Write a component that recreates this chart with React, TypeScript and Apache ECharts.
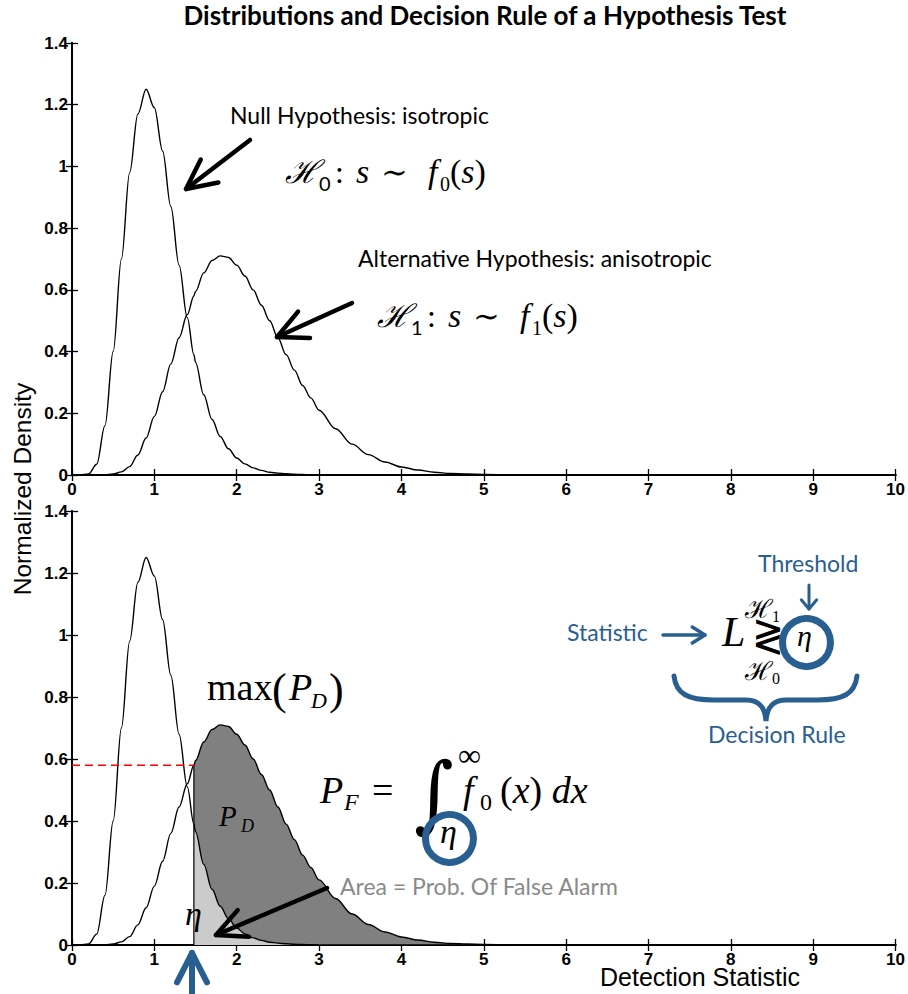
import React, { useEffect, useRef } from "react";
import * as echarts from "echarts";

// ---------- data ----------
const xs = [0, 0.1, 0.2, 0.3, 0.4, 0.5, 0.6, 0.7, 0.8, 0.9, 1.0, 1.1, 1.2, 1.3, 1.4, 1.48, 1.5, 1.6, 1.7, 1.8, 1.9, 2.0, 2.1, 2.2, 2.3, 2.4, 2.5, 2.6, 2.7, 2.8, 2.9, 3.0, 3.2, 3.4, 3.6, 3.8, 4.0, 4.2, 4.4, 4.6, 4.8, 5.0, 5.5, 6.0, 10];
const nullDensity = [0, 0, 0.003, 0.035, 0.16, 0.4, 0.7, 0.98, 1.17, 1.25, 1.19, 1.05, 0.87, 0.68, 0.51, 0.39, 0.365, 0.26, 0.18, 0.125, 0.085, 0.055, 0.036, 0.023, 0.015, 0.009, 0.006, 0.004, 0.0025, 0.0015, 0.001, 0.0005, 0, 0, 0, 0, 0, 0, 0, 0, 0, 0, 0, 0, 0];
const altDensity = [0, 0, 0, 0, 0.001, 0.003, 0.01, 0.027, 0.065, 0.12, 0.19, 0.27, 0.36, 0.445, 0.52, 0.58, 0.595, 0.655, 0.695, 0.71, 0.705, 0.68, 0.645, 0.6, 0.55, 0.5, 0.445, 0.39, 0.34, 0.29, 0.25, 0.21, 0.15, 0.1, 0.066, 0.042, 0.026, 0.016, 0.009, 0.005, 0.003, 0.002, 0.0005, 0, 0];
const threshold = 1.48;
const X_MIN = 0, X_MAX = 10, X_STEP = 1;
const Y_MIN = 0, Y_MAX = 1.4, Y_STEP = 0.2;

// ---------- styles ----------
const BLUE = "#295e91";
const SERIF = "'Liberation Serif','DejaVu Serif',serif";
const MATH = "'DejaVu Serif','Liberation Serif',serif";
const SANS = "Lato,'Open Sans',sans-serif";
const ARIAL = "'Liberation Sans',Arial,sans-serif";

const bracePath =
  "M0 0 C2 18 14 24 40 24 L72 24 C86 24 91 32 92 45 C93 32 98 24 112 24 L143 24 C169 24 181 18 183 0";
echarts.graphic.registerShape("brace", echarts.graphic.extendPath(bracePath, {}) as any);

function tx(text: string, x: number, base: number, size: number, family: string, opt: any = {}) {
  const k = family === SANS ? 0.39 : 0.34;
  const el: any = {
    type: "text",
    z: 100,
    x,
    y: base - k * size,
    style: {
      text,
      fontSize: size,
      fontFamily: family,
      fill: opt.fill || "#000",
      fontStyle: opt.italic ? "italic" : "normal",
      fontWeight: opt.bold ? "bold" : "normal",
      align: opt.align || "left",
      verticalAlign: "middle",
    },
  };
  if (opt.rich) el.style.rich = opt.rich;
  if (opt.scaleY) el.scaleY = opt.scaleY;
  if (opt.scaleX) el.scaleX = opt.scaleX;
  return el;
}

function arrow(x1: number, y1: number, x2: number, y2: number, len: number, deg: number, w: number, color: string) {
  const a = Math.atan2(y1 - y2, x1 - x2);
  const r = (deg * Math.PI) / 180;
  const p1 = [x2 + len * Math.cos(a - r), y2 + len * Math.sin(a - r)];
  const p2 = [x2 + len * Math.cos(a + r), y2 + len * Math.sin(a + r)];
  return [
    { type: "line", z: 100, shape: { x1, y1, x2, y2 }, style: { stroke: color, lineWidth: w, lineCap: "round" } },
    {
      type: "polyline",
      z: 100,
      shape: { points: [p1, [x2, y2], p2] },
      style: { stroke: color, lineWidth: w, lineCap: "round", lineJoin: "round", fill: null },
    },
  ];
}

function hFormula(x0: number, base: number, sub: string) {
  const rich = {
    n: { fontFamily: SERIF, fontSize: 34 },
    i: { fontFamily: SERIF, fontSize: 34, fontStyle: "italic" },
  };
  return [
    tx("ℋ", x0, base, 32, MATH, { italic: true }),
    tx(sub, x0 + 34, base + 8, 20, SANS),
    tx(":", x0 + 50, base, 32, SERIF),
    tx("s", x0 + 71, base, 34, SERIF, { italic: true }),
    tx("∼", x0 + 96, base, 32, SERIF),
    tx("f", x0 + 143, base, 34, SERIF, { italic: true }),
    tx(sub, x0 + 155, base + 8, 20, SERIF),
    tx("{n|(}{i|s}{n|)}", x0 + 165, base, 34, SERIF, { rich }),
  ];
}

function fmtY(v: number) {
  return String(Math.round(v * 10) / 10);
}

function makeAxes(grid: number) {
  const line = { show: true, lineStyle: { color: "#000", width: 2 } };
  const tick = { show: true, inside: true, length: 6, lineStyle: { color: "#000", width: 1.3 } };
  const label = { color: "#000", fontWeight: "bold", fontSize: 17, fontFamily: ARIAL };
  const x = [
    {
      gridIndex: grid, type: "value", position: "bottom", min: X_MIN, max: X_MAX, interval: X_STEP,
      axisLine: line, axisTick: tick, splitLine: { show: false },
      axisLabel: { ...label, margin: 6 },
    },
    {
      gridIndex: grid, type: "value", position: "top", min: X_MIN, max: X_MAX, interval: X_STEP,
      axisLine: line, axisTick: tick, splitLine: { show: false }, axisLabel: { show: false },
    },
  ];
  const y = [
    {
      gridIndex: grid, type: "value", position: "left", min: Y_MIN, max: Y_MAX, interval: Y_STEP,
      axisLine: line, axisTick: tick, splitLine: { show: false },
      axisLabel: { ...label, margin: 4, formatter: fmtY },
    },
    {
      gridIndex: grid, type: "value", position: "right", min: Y_MIN, max: Y_MAX, interval: Y_STEP,
      axisLine: line, axisTick: tick, splitLine: { show: false }, axisLabel: { show: false },
    },
  ];
  return { x, y };
}

function buildOption() {
  const pts = (vals: number[]) => xs.map((x, i) => [x, vals[i]]);
  const fromThreshold = (vals: number[]) => xs.map((x, i) => [x, vals[i]]).filter((p) => p[0] >= threshold);
  const tIdx = xs.indexOf(threshold);
  const level = altDensity[tIdx];

  const a0 = makeAxes(0);
  const a1 = makeAxes(1);
  const curve = (vals: number[], xi: number, yi: number) => ({
    type: "line", xAxisIndex: xi, yAxisIndex: yi, data: pts(vals), showSymbol: false, symbol: "none",
    smooth: 0.35, smoothMonotone: "x", lineStyle: { color: "#000", width: 1.4 }, z: 5,
  });

  const graphic: any[] = [
    tx("Distributions and Decision Rule of a Hypothesis Test", 485, 25, 26, SANS, { bold: true, align: "center" }),
    {
      type: "text", z: 100, x: 22, y: 489, rotation: Math.PI / 2,
      style: { text: "Normalized Density", fontSize: 24.5, fontFamily: ARIAL, fill: "#000", align: "center", verticalAlign: "middle" },
    },
    tx("Detection Statistic", 600, 985, 25, ARIAL),
    tx("Null Hypothesis: isotropic", 230, 124, 23, SANS),
    tx("Alternative Hypothesis: anisotropic", 358, 267, 23, SANS),
    ...hFormula(285, 183, "0"),
    ...hFormula(377, 327, "1"),
    ...arrow(250, 140, 186, 189, 33, 26, 4.5, "#000"),
    ...arrow(352, 303, 277, 337, 33, 26, 4.5, "#000"),
    // bottom panel annotations
    tx("max", 207, 700, 38, SERIF),
    tx("(", 272, 704, 44, SERIF),
    tx("P", 289, 700, 38, SERIF, { italic: true }),
    tx("D", 311, 708, 22, SERIF, { italic: true }),
    tx(")", 329, 704, 44, SERIF),
    tx("P", 219, 826, 29, SERIF, { italic: true }),
    tx("D", 241, 832, 18, SERIF, { italic: true }),
    tx("P", 320, 803, 38, SERIF, { italic: true }),
    tx("F", 344, 810, 24, SERIF, { italic: true }),
    tx("=", 372, 803, 38, SERIF),
    { type: "text", z: 100, x: 414, y: 793, scaleY: 1.1, style: { text: "∫", fontSize: 76, fontFamily: MATH, fill: "#000", align: "left", verticalAlign: "middle" } },
    tx("∞", 458, 766, 32, SERIF),
    tx("f", 463, 803, 38, SERIF, { italic: true }),
    tx("0", 480, 810, 24, SERIF),
    tx("{n|(}{i|x}{n|) }{i|dx}", 500, 803, 38, SERIF, {
      rich: {
        n: { fontFamily: SERIF, fontSize: 38 },
        i: { fontFamily: SERIF, fontSize: 38, fontStyle: "italic" },
      },
    }),
    { type: "circle", z: 100, shape: { cx: 449.5, cy: 838.5, r: 24 }, style: { fill: "none", stroke: BLUE, lineWidth: 7 } },
    tx("η", 440, 843, 34, SERIF, { italic: true }),
    tx("Area = Prob. Of False Alarm", 340, 895, 23, SANS, { fill: "#8a8a8a" }),
    ...arrow(327, 888, 216, 935, 33, 26, 4.5, "#000"),
    tx("η", 185, 925, 34, SERIF, { italic: true }),
    ...arrow(192, 996, 192, 953, 33, 27, 6, BLUE),
    // decision rule
    tx("Threshold", 758, 572, 23, SANS, { fill: BLUE }),
    ...arrow(809, 585, 809, 609, 12, 40, 3, BLUE),
    tx("Statistic", 567, 641, 23, SANS, { fill: BLUE }),
    ...arrow(663, 635, 705, 635, 15, 32, 3.5, BLUE),
    tx("L", 722, 646, 42, SERIF, { italic: true }),
    tx("ℋ", 745, 618, 26, MATH),
    tx("1", 772, 622, 16, SERIF),
    tx("≷", 752, 648, 38, MATH, { scaleY: 1.2 }),
    tx("ℋ", 745, 680, 26, MATH),
    tx("0", 772, 684, 16, SERIF),
    { type: "circle", z: 100, shape: { cx: 806.5, cy: 642.5, r: 24 }, style: { fill: "none", stroke: BLUE, lineWidth: 7 } },
    tx("η", 797, 646, 30, SERIF, { italic: true }),
    { type: "brace", z: 100, x: 674, y: 676, style: { fill: "none", stroke: BLUE, lineWidth: 5, lineCap: "round" } },
    tx("Decision Rule", 708, 743, 23, SANS, { fill: BLUE }),
  ];

  return {
    animation: false,
    backgroundColor: "#fff",
    grid: [
      { left: 72, top: 43, right: 11, height: 432 },
      { left: 72, top: 511, right: 11, height: 434 },
    ],
    xAxis: [...a0.x, ...a1.x],
    yAxis: [...a0.y, ...a1.y],
    series: [
      {
        type: "line", xAxisIndex: 2, yAxisIndex: 2, data: fromThreshold(altDensity), showSymbol: false, symbol: "none",
        smooth: 0.35, smoothMonotone: "x", lineStyle: { width: 0, opacity: 0 }, areaStyle: { color: "#808080", opacity: 1 }, z: 2,
      },
      {
        type: "line", xAxisIndex: 2, yAxisIndex: 2, data: fromThreshold(nullDensity), showSymbol: false, symbol: "none",
        smooth: 0.35, smoothMonotone: "x", lineStyle: { width: 0, opacity: 0 }, areaStyle: { color: "#cbcbcb", opacity: 1 }, z: 3,
      },
      curve(nullDensity, 0, 0),
      curve(altDensity, 0, 0),
      curve(nullDensity, 2, 2),
      curve(altDensity, 2, 2),
      {
        type: "line", xAxisIndex: 2, yAxisIndex: 2, data: [[threshold, 0], [threshold, level]], showSymbol: false, symbol: "none",
        lineStyle: { color: "#000", width: 1.2 }, z: 6,
      },
      {
        type: "line", xAxisIndex: 2, yAxisIndex: 2, data: [[X_MIN, level], [threshold, level]], showSymbol: false, symbol: "none",
        lineStyle: { color: "#ff0000", width: 1.5, type: [8, 5] }, z: 6,
      },
    ],
    graphic: { elements: graphic },
  };
}

export default function App() {
  const ref = useRef<HTMLDivElement>(null);
  useEffect(() => {
    const chart = echarts.init(ref.current!, null, { renderer: "svg" });
    chart.setOption(buildOption() as any);
    return () => chart.dispose();
  }, []);
  return (
    <div
      ref={ref}
      style={{ position: "fixed", left: 0, top: 0, width: 908, height: 994, background: "#fff" }}
    />
  );
}
